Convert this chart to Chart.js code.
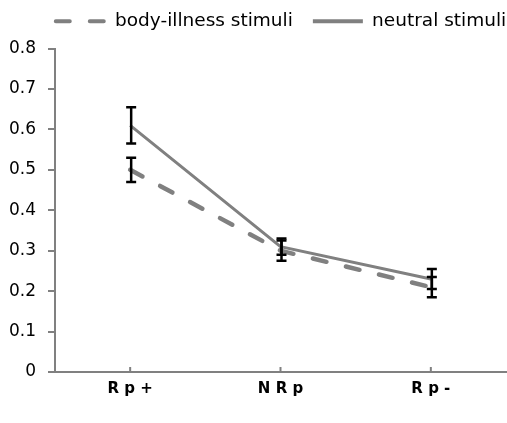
<!DOCTYPE html>
<html>
<head>
<meta charset="utf-8">
<script src="https://cdn.jsdelivr.net/npm/chart.js@4.4.0/dist/chart.umd.min.js"></script>
<style>
  html, body { margin: 0; padding: 0; background: #fff; }
  #wrap { width: 507px; height: 423px; }
</style>
</head>
<body>
<div id="wrap"><canvas id="chart"></canvas></div>
<script>
const categories = ['R p +', 'N R p', 'R p -'];
const bodyIllness = [0.50, 0.30, 0.21];
const bodyErr = [0.03, 0.025, 0.025];
const neutral = [0.61, 0.31, 0.23];
const neutralErr = [0.045, 0.02, 0.025];
const yTicks = [0, 0.1, 0.2, 0.3, 0.4, 0.5, 0.6, 0.7, 0.8];

const errors = [bodyErr, neutralErr];

// error bars + small inward tick marks on the x axis
const errorBars = {
    id: 'errorBars',
    afterDatasetsDraw(chart){
        const ctx = chart.ctx;
        const x = chart.scales.x;
        const y = chart.scales.y;
        ctx.save();
        ctx.strokeStyle = '#000';
        ctx.lineWidth = 2.5;
        chart.data.datasets.forEach((ds, d) => {
            ds.data.forEach((v, i) => {
                let px = x.getPixelForValue(i) + 1;
                let top = y.getPixelForValue(v + errors[d][i]);
                let bot = y.getPixelForValue(v - errors[d][i]);
                ctx.beginPath();
                ctx.moveTo(px, top); ctx.lineTo(px, bot);
                ctx.moveTo(px - 5, top); ctx.lineTo(px + 5, top);
                ctx.moveTo(px - 5, bot); ctx.lineTo(px + 5, bot);
                ctx.stroke();
            });
        });
        ctx.strokeStyle = '#808080';
        ctx.lineWidth = 2;
        categories.forEach((c, i) => {
            let px = x.getPixelForValue(i);
            ctx.beginPath();
            ctx.moveTo(px, y.bottom); ctx.lineTo(px, y.bottom - 5);
            ctx.stroke();
        });
        ctx.restore();
    }
};

// legend sits a little lower-right, with more room under it
const legendPos = {
    id: 'legendPos',
    beforeInit(chart){
        const fit = chart.legend.fit;
        chart.legend.fit = function(){
            fit.bind(chart.legend)();
            this.height -= 2;
        };
    },
    afterLayout(chart){
        chart.legend.left += 28;
        chart.legend.right += 28;
        chart.legend.top -= 10;
    }
};

new Chart(document.getElementById('chart'), {
    type: 'line',
    data: {
        labels: categories,
        datasets: [{
            label: 'body-illness stimuli',
            data: bodyIllness,
            borderColor: '#808080',
            backgroundColor: '#808080',
            borderWidth: 4.5,
            borderDash: [14, 20],
            borderCapStyle: 'round',
            pointRadius: 0,
            tension: 0
        }, {
            label: 'neutral stimuli',
            data: neutral,
            borderColor: '#808080',
            backgroundColor: '#808080',
            borderWidth: 3,
            borderCapStyle: 'butt',
            pointRadius: 0,
            tension: 0
        }]
    },
    options: {
        responsive: true,
        maintainAspectRatio: false,
        animation: false,
        layout: { padding: { left: 0, right: 1, top: 2, bottom: 25 } },
        plugins: {
            tooltip: { enabled: false },
            legend: {
                position: 'top',
                labels: {
                    usePointStyle: true,
                    pointStyle: 'line',
                    pointStyleWidth: 50,
                    color: '#000',
                    padding: 20,
                    font: { family: 'DejaVu Sans', size: 18.5 },
                    generateLabels: chart => {
                        let items = Chart.defaults.plugins.legend.labels.generateLabels(chart);
                        items.forEach(it => {
                            let ds = chart.data.datasets[it.datasetIndex];
                            it.lineDash = ds.borderDash || [];
                            it.lineCap = ds.borderCapStyle;
                            it.lineWidth = 4;
                            it.strokeStyle = '#808080';
                        });
                        return items;
                    }
                }
            }
        },
        scales: {
            x: {
                offset: true,
                grid: { display: false },
                border: { color: '#808080', width: 2 },
                ticks: {
                    color: '#000',
                    padding: 0,
                    font: { family: 'DejaVu Sans', size: 15, weight: 'bold' }
                }
            },
            y: {
                min: 0,
                max: 0.8,
                afterBuildTicks: axis => { axis.ticks = yTicks.map(v => ({ value: v })); },
                afterFit: axis => { axis.width = 55; },
                grid: { drawOnChartArea: false, color: '#808080', tickLength: 7, lineWidth: 2 },
                border: { color: '#808080', width: 2 },
                ticks: {
                    color: '#000',
                    padding: 12,
                    font: { family: 'DejaVu Sans', size: 17 },
                    callback: v => v === 0 ? '0' : v.toFixed(1)
                }
            }
        }
    },
    plugins: [errorBars, legendPos]
});
</script>
</body>
</html>
